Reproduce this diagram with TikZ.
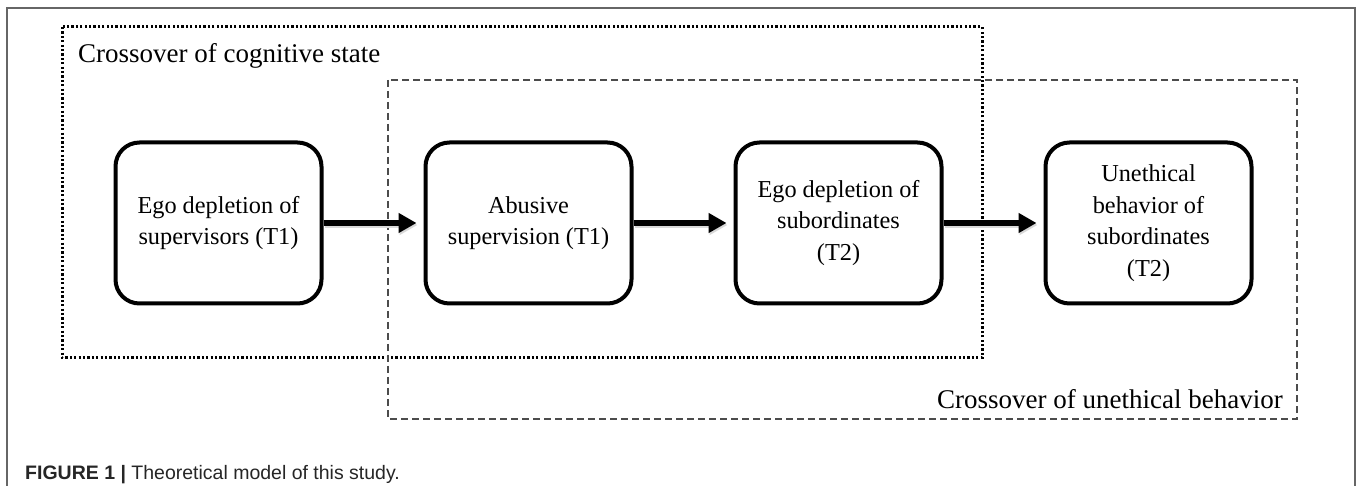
\documentclass[tikz,border=0pt]{standalone}
\usepackage{fontspec}
\setmainfont{Liberation Serif}
\newfontfamily\capfont{Liberation Sans}
\usetikzlibrary{arrows.meta}
\begin{document}
\begin{tikzpicture}[x=1pt,y=-1pt,
  stepbox/.style={draw=black,line width=4pt,rounded corners=24pt,minimum width=206pt,minimum height=161pt,align=center,font=\fontsize{24.3}{31.5}\selectfont,inner sep=0pt},
  flow/.style={line width=5.5pt,-{Triangle[length=18pt,width=19pt]},shorten >=7pt},
  flowshadow/.style={flow,black!15,transform canvas={xshift=1pt,yshift=-2pt}},
  grouptitle/.style={font=\fontsize{27}{32}\selectfont,inner sep=0pt}]
\useasboundingbox (0,0) rectangle (1358,486);
\fill[white] (0,0) rectangle (1358,486);
% outer frame
\draw[gray!80!black,line width=1.2pt] (7,486) -- (7,8) -- (1355,8) -- (1355,486);
% group frames
\draw[line width=3pt,dash pattern=on 2.2pt off 2.2pt] (62,27) rectangle (982,358);
\draw[black!70,line width=1.3pt,dash pattern=on 7pt off 4pt] (388,80) rectangle (1297,419);
\node[grouptitle,anchor=base west] (t1) at (78,63) {Crossover of cognitive state};
\node[grouptitle,anchor=base east] (t2) at (1283,408) {Crossover of unethical behavior};
% boxes
\node[stepbox] (b1) at (218.5,223) {Ego depletion of\\supervisors (T1)};
\node[stepbox] (b2) at (528.5,223) {Abusive\\supervision (T1)};
\node[stepbox] (b3) at (838.5,223) {Ego depletion of\\subordinates\\(T2)};
\node[stepbox] (b4) at (1148.5,223) {Unethical\\behavior of\\subordinates\\(T2)};
\foreach \a/\b in {b1/b2,b2/b3,b3/b4}{
  \draw[flowshadow] (\a) -- (\b);
  \draw[flow] (\a) -- (\b);
}
% caption
\node[anchor=base west,inner sep=0pt,font=\capfont\fontsize{19.5}{22}\selectfont,text=black!85] (cap) at (25,479) {\textbf{FIGURE 1 |} Theoretical model of this study.};
\end{tikzpicture}
\end{document}
